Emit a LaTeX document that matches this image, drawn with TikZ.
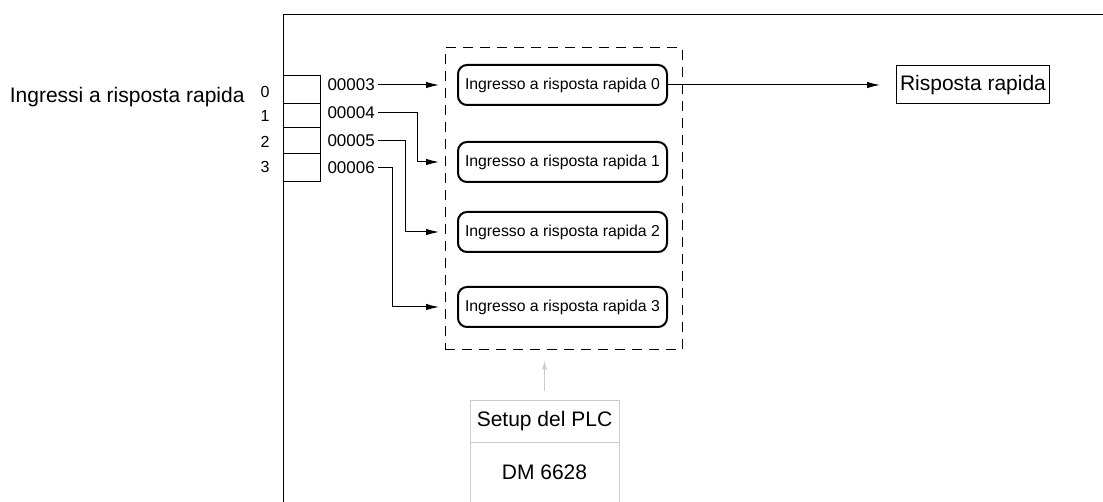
\documentclass[tikz,border=0pt]{standalone}
\usepackage{fontspec}
\setmainfont{Liberation Sans}
\usetikzlibrary{arrows.meta,positioning}
\tikzset{
  ingresso/.style={draw,line width=2pt,rounded corners=9pt,minimum width=209pt,minimum height=40pt,inner sep=0pt,font=\fontsize{15.8}{17}\selectfont},
  numero/.style={anchor=west,inner sep=3pt,font=\fontsize{17}{18}\selectfont},
  freccia/.style={-{Latex[length=13pt,width=6.5pt]},line width=1pt,shorten >=18pt},
  grigio/.style={draw=black!20,line width=1pt,minimum width=149pt,inner sep=0pt,font=\fontsize{21}{24}\selectfont}
}
\begin{document}
\begin{tikzpicture}[x=1pt,y=-1pt,line width=1pt]
  \useasboundingbox (0,0) rectangle (1103,502);
  % cornice
  \draw (283,502)--(283,15)--(1103,15);
  % celle ingressi
  \draw (283,76) rectangle (320,182);
  \foreach \y in {104,128,154} \draw (283,\y)--(320,\y);
  \node[anchor=east,inner sep=0pt,font=\fontsize{21}{24}\selectfont] (titolo) at (245,97) {Ingressi a risposta rapida};
  \foreach \i/\y in {0/92,1/116,2/142,3/167}
    \node[font=\fontsize{16}{18}\selectfont,inner sep=0pt] (bit\i) at (265,\y) {\i};
  \node[numero] (n0) at (324,85) {00003};
  \node[numero] (n1) at (324,113) {00004};
  \node[numero] (n2) at (324,141) {00005};
  \node[numero] (n3) at (324,168) {00006};

  % blocchi
  \node[draw,dash pattern=on 10pt off 7pt,minimum width=237pt,minimum height=302pt,inner sep=0pt] (gruppo) at (563.5,199) {};
  \node[ingresso] (b0) at (562.5,85) {Ingresso a risposta rapida 0};
  \node[ingresso] (b1) at (562.5,162) {Ingresso a risposta rapida 1};
  \node[ingresso] (b2) at (562.5,232) {Ingresso a risposta rapida 2};
  \node[ingresso] (b3) at (562.5,307) {Ingresso a risposta rapida 3};
  \node[draw,minimum width=153pt,minimum height=38pt,inner sep=0pt,font=\fontsize{21}{24}\selectfont] (risp) at (973,85) {Risposta rapida};

  \draw[freccia] (n0.east) -- (b0.west);
  \draw[freccia] (n1.east) -- ++(39,0) |- (b1.west);
  \draw[freccia] (n2.east) -- ++(27,0) |- (b2.west);
  \draw[freccia] (n3.east) -- ++(14,0) |- (b3.west);
  \draw[freccia,shorten >=16pt] (b0.east) -- (risp.west);

  % setup PLC
  \node[grigio,minimum height=41pt] (plc) at (544.5,421.5) {Setup del PLC};
  \node[grigio,minimum height=60pt,below=-1pt of plc] (dm) {DM 6628};
  \draw[black!20,-{Latex[length=9pt,width=5pt]},shorten <=9pt,shorten >=10pt] (plc.north) -- (plc.north |- gruppo.south);
\end{tikzpicture}
\end{document}
